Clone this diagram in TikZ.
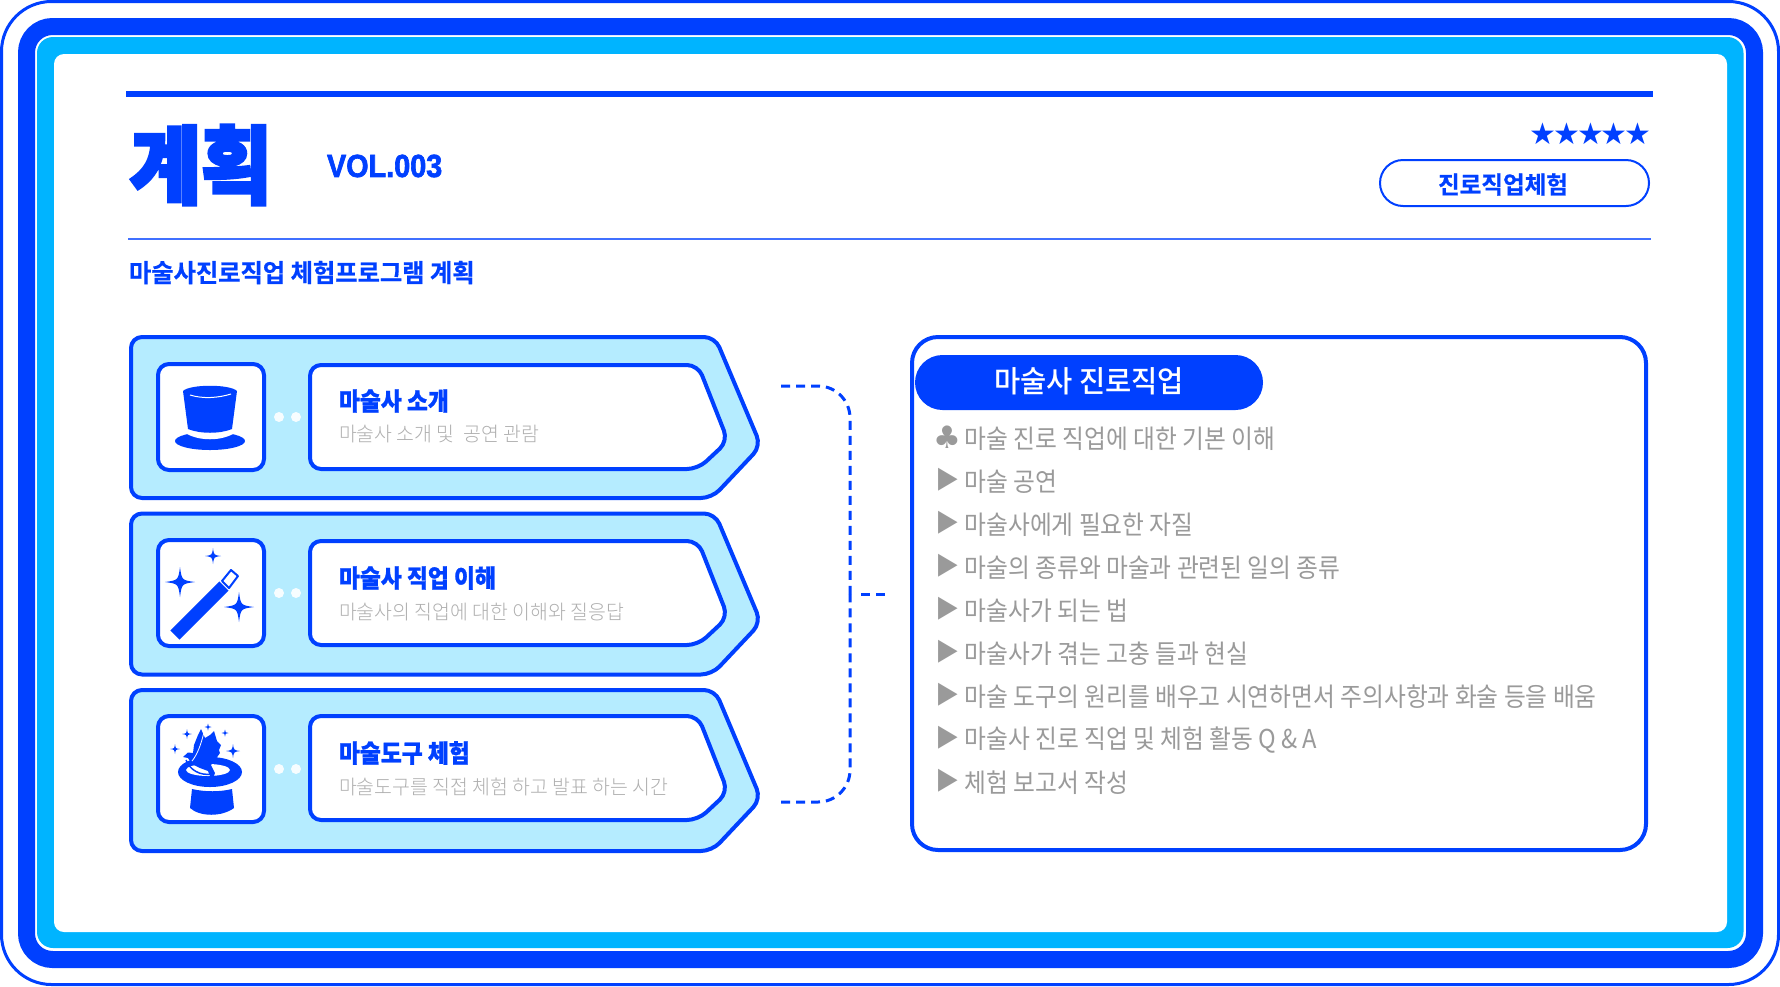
\documentclass[tikz,border=0pt]{standalone}
\usepackage{fontspec}
\setmainfont{Noto Sans CJK KR}
\newfontfamily\krblack[FakeStretch=.91,FakeBold=1]{Noto Sans CJK KR Black}
\newfontfamily\krtitle[FakeStretch=.91,FakeBold=3.5]{Noto Sans CJK KR Black}
\newfontfamily\krbold[FakeStretch=.97,FakeBold=.6]{Noto Sans CJK KR Bold}
\newfontfamily\krtag[FakeStretch=.98,FakeBold=.6]{Noto Sans CJK KR Bold}
\newfontfamily\krlight[FakeStretch=.97]{Noto Sans CJK KR Light}
\newfontfamily\krhead[FakeStretch=.95]{Noto Sans CJK KR Medium}
\newfontfamily\krlist[FakeStretch=.913]{Noto Sans CJK KR}
\newfontfamily\volfont[FakeStretch=.9,FakeBold=2]{Liberation Sans Bold}
\newfontfamily\symfont{DejaVu Sans}
\newfontfamily\markfont[FakeStretch=.85]{DejaVu Sans}
\newfontfamily\starfont[LetterSpace=-10]{DejaVu Sans}
\definecolor{magicblue}{HTML}{0040FF}
\definecolor{magiccyan}{HTML}{00B4FF}
\definecolor{paleblue}{HTML}{B5ECFF}
\definecolor{listgray}{HTML}{9A9A9A}
\definecolor{subgray}{HTML}{AFAFAF}
\newcommand{\sparkle}[3]{\fill[magicblue] (#1,#2-#3) .. controls (#1+.12*#3,#2-.12*#3) .. (#1+#3,#2) .. controls (#1+.12*#3,#2+.12*#3) .. (#1,#2+#3) .. controls (#1-.12*#3,#2+.12*#3) .. (#1-#3,#2) .. controls (#1-.12*#3,#2-.12*#3) .. cycle;}
\begin{document}
\begin{tikzpicture}[x=1pt,y=-1pt,
    every node/.style={inner sep=0pt,outer sep=0pt},
    panelbox/.style={draw=magicblue,fill=paleblue,line width=4pt,rounded corners=11pt,line join=round},
    labelbox/.style={draw=magicblue,fill=white,line width=4pt,rounded corners=11pt,line join=round},
    iconbox/.style={draw=magicblue,fill=white,line width=4pt,rounded corners=11pt},
    linkdot/.style={circle,fill=white,opacity=.9,minimum size=10pt},
    labeltitle/.style={anchor=west,text=magicblue,font=\krblack\fontsize{25}{25}\selectfont},
    labelsub/.style={anchor=west,text=subgray,font=\krlight\fontsize{20}{20}\selectfont},
    listrow/.style={anchor=west,text=listgray,font=\krlist\fontsize{26}{26}\selectfont},
    listmark/.style={anchor=center,text=listgray,font=\markfont\fontsize{30}{30}\selectfont},
    clubmark/.style={anchor=center,text=listgray,font=\symfont\fontsize{31}{31}\selectfont},
    linkline/.style={draw=magicblue,line width=3pt,dash pattern=on 9pt off 6pt}]
  \useasboundingbox (0,0) rectangle (1780,986);
  \fill[white] (0,0) rectangle (1780,986);
  \draw[magicblue,line width=3pt,rounded corners=50pt] (1.5,1.5) rectangle (1778.5,984.5);
  \draw[magicblue,line width=17pt,rounded corners=26pt] (26.5,26.5) rectangle (1754.5,959.5);
  \fill[magiccyan,rounded corners=16pt] (37,37) rectangle (1743.5,948);
  \fill[white,rounded corners=10pt] (54,54) rectangle (1727,932);

  \draw[magicblue,line width=6pt] (126,94) -- (1653,94);
  \draw[magicblue!75,line width=2pt] (128,239) -- (1651,239);
  \node[anchor=center,text=magicblue,font=\krtitle\fontsize{85}{85}\selectfont] (title) at (201,165) {계획};
  \node[anchor=west,text=magicblue,font=\volfont\fontsize{32}{32}\selectfont] (vol) at (327,166) {VOL.003};
  \node[anchor=west,text=magicblue,font=\krbold\fontsize{25}{25}\selectfont] (subtitle) at (129,272.5) {마술사진로직업 체험프로그램 계획};
  \node[anchor=center,text=magicblue,font=\starfont\fontsize{30}{30}\selectfont] (stars) at (1590.5,134) {★★★★★};
  \draw[magicblue,line width=2pt,rounded corners=23pt] (1380,160) rectangle (1649,206);
  \node[anchor=center,text=magicblue,font=\krtag\fontsize{24}{24}\selectfont] (tag) at (1503,184.5) {진로직업체험};

  \draw[panelbox] (400,337) -- (715,337) -- (761,446) -- (712,498) -- (131,498) -- (131,337) -- cycle;
  \draw[panelbox] (400,513.5) -- (715,513.5) -- (761,622.5) -- (712,674.5) -- (131,674.5) -- (131,513.5) -- cycle;
  \draw[panelbox] (400,690) -- (715,690) -- (761,799) -- (712,851) -- (131,851) -- (131,690) -- cycle;

  \draw[iconbox] (158,364) rectangle (264,470);
  \draw[iconbox] (158,540) rectangle (264,646);
  \draw[iconbox] (158,716) rectangle (264,822);

  \draw[labelbox] (500,365) -- (698,365) -- (728,441) -- (698,469) -- (310,469) -- (310,365) -- cycle;
  \draw[labelbox] (500,541) -- (698,541) -- (728,617) -- (698,645) -- (310,645) -- (310,541) -- cycle;
  \draw[labelbox] (500,716) -- (698,716) -- (728,792) -- (698,820) -- (310,820) -- (310,716) -- cycle;

  \node[linkdot] (dota) at (279,417) {};
  \node[linkdot] (dotb) at (296,417) {};
  \node[linkdot] (dotc) at (279,593) {};
  \node[linkdot] (dotd) at (296,593) {};
  \node[linkdot] (dote) at (279,769) {};
  \node[linkdot] (dotf) at (296,769) {};

  \node[labeltitle] (intro) at (339,401) {마술사 소개};
  \node[labelsub] (introsub) at (339,434.5) {마술사 소개 및\ \ 공연 관람};
  \node[labeltitle] (job) at (339,578) {마술사 직업 이해};
  \node[labelsub] (jobsub) at (339,611.5) {마술사의 직업에 대한 이해와 질응답};
  \node[labeltitle] (tool) at (339,753) {마술도구 체험};
  \node[labelsub] (toolsub) at (339,786.5) {마술도구를 직접 체험 하고 발표 하는 시간};

  \fill[magicblue] (210,441) ellipse [x radius=35, y radius=9];
  \fill[white] (187,428) -- (233,428) -- (233,434) .. controls (220,441) and (200,441) .. (187,434) -- cycle;
  \fill[magicblue] (183,391) .. controls (190,384) and (230,384) .. (237,391) -- (232,429) .. controls (220,434) and (200,434) .. (188,429) -- cycle;
  \draw[white,line width=1pt] (190,395) .. controls (203,399) and (218,398) .. (231,394);

  \draw[magicblue,line width=13pt,line join=round] (175,635) -- (224,586);
  \draw[magicblue,fill=white,line width=2pt,line join=round] (222,581) -- (231,570) -- (238,576) -- (229,588) -- cycle;
  \sparkle{180}{582}{15}
  \sparkle{239}{607}{15}
  \sparkle{213}{556}{8}

  \fill[magicblue] (210,772) ellipse [x radius=32, y radius=15];
  \fill[white] (208,770) ellipse [x radius=22, y radius=6];
  \fill[magicblue] (192,789) .. controls (205,792) and (220,792) .. (232,789) -- (234,808) .. controls (222,817) and (200,817) .. (190,808) -- cycle;
  \fill[magicblue] (183,757) -- (188,752.5) -- (193,753) -- (194,745) -- (198,735) -- (201,729) -- (205,738) -- (210,735) -- (214,731) -- (217,741) -- (221,745) -- (219,750) -- (220,753) -- (215,760) -- (211,765) -- (215,773) -- (212,781) -- (208,771) -- (200,768) -- (192,764) -- (188,758) -- cycle;
  \draw[white,line width=.8pt] (204,732) .. controls (201,745) and (197,755) .. (192,761);
  \draw[magicblue,line width=1.5pt] (186,760) .. controls (190,770) and (200,776) .. (212,774);
  \sparkle{187}{734}{5}
  \sparkle{175}{749}{5}
  \sparkle{208}{727}{3.5}
  \sparkle{225}{733}{3.5}
  \sparkle{233}{751}{7}

  \coordinate (linktop) at (781,386);
  \coordinate (linkbot) at (781,802);
  \coordinate (linkmid) at (850,594);
  \coordinate (stubin) at (861,594);
  \coordinate (stubout) at (885,594);
  \draw[linkline,rounded corners=32pt] (linktop) -- (850,386) -- (linkmid);
  \draw[linkline,rounded corners=32pt] (linkbot) -- (850,802) -- (linkmid);
  \draw[linkline] (stubin) -- (stubout);

  \draw[magicblue,line width=4pt,rounded corners=26pt] (912,337) rectangle (1646,850);
  \node[fill=magicblue,rounded corners=27.5pt,minimum width=348pt,minimum height=55pt,anchor=center,text=white,text depth=5.6pt,font=\krhead\fontsize{30}{30}\selectfont] (listhead) at (1089,382.5) {마술사 진로직업};

  \node[clubmark] (marka) at (947.5,437) {♣};
  \node[listrow] (rowa) at (964.5,438.5) {마술 진로 직업에 대한 기본 이해};
  \node[listmark] (markb) at (948,480) {▶};
  \node[listrow] (rowb) at (964.5,481.5) {마술 공연};
  \node[listmark] (markc) at (948,523) {▶};
  \node[listrow] (rowc) at (964.5,524.5) {마술사에게 필요한 자질};
  \node[listmark] (markd) at (948,566) {▶};
  \node[listrow] (rowd) at (964.5,567.5) {마술의 종류와 마술과 관련된 일의 종류};
  \node[listmark] (marke) at (948,609) {▶};
  \node[listrow] (rowe) at (964.5,610.5) {마술사가 되는 법};
  \node[listmark] (markf) at (948,652) {▶};
  \node[listrow] (rowf) at (964.5,653.5) {마술사가 겪는 고충 들과 현실};
  \node[listmark] (markg) at (948,695) {▶};
  \node[listrow] (rowg) at (964.5,696.5) {마술 도구의 원리를 배우고 시연하면서 주의사항과 화술 등을 배움};
  \node[listmark] (markh) at (948,738) {▶};
  \node[listrow] (rowh) at (964.5,740.5) {마술사 진로 직업 및 체험 활동 Q \& A};
  \node[listmark] (marki) at (948,781) {▶};
  \node[listrow] (rowi) at (964.5,782.5) {체험 보고서 작성};
\end{tikzpicture}
\end{document}
